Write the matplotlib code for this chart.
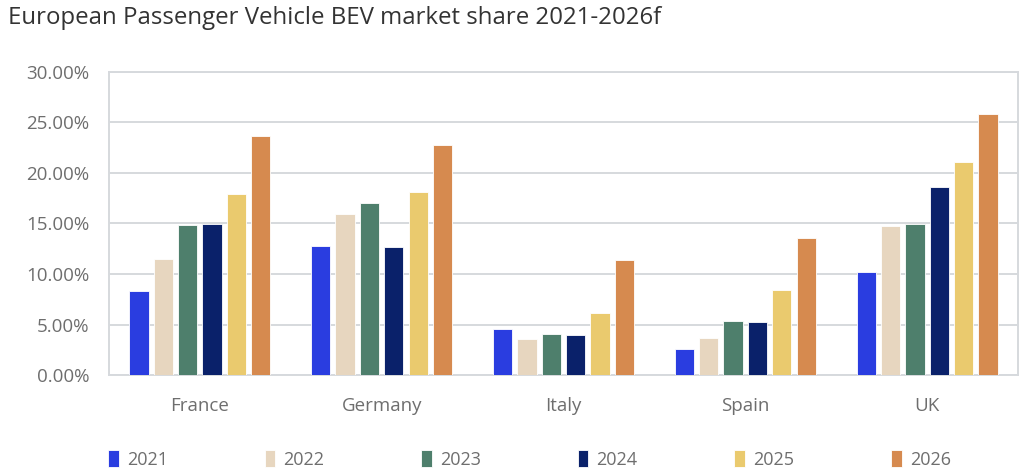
import numpy as np
import matplotlib
matplotlib.use('Agg')
import matplotlib.pyplot as plt
from matplotlib.ticker import FuncFormatter

plt.rcParams['font.family'] = ['Open Sans', 'DejaVu Sans']

countries = ['France', 'Germany', 'Italy', 'Spain', 'UK']
years = ['2021', '2022', '2023', '2024', '2025', '2026']
share_2021 = [8.34, 12.82, 4.52, 2.60, 10.19]
share_2022 = [11.47, 15.92, 3.53, 3.66, 14.80]
share_2023 = [14.83, 17.04, 4.05, 5.37, 14.96]
share_2024 = [14.93, 12.66, 3.92, 5.21, 18.59]
share_2025 = [17.90, 18.10, 6.13, 8.44, 21.06]
share_2026 = [23.67, 22.78, 11.37, 13.55, 25.84]
colors = ['#2a3de0', '#e7d6bf', '#4e7f6c', '#0a216a', '#eaca6e', '#d68a4f']

series = [share_2021, share_2022, share_2023, share_2024, share_2025, share_2026]

fig = plt.figure(figsize=(10.24, 4.72), dpi=100)
ax = fig.add_axes([0.1064, 0.2055, 0.8877, 0.642])

x = np.arange(len(countries))
step = 0.134
width = 0.106
for i, (vals, yr, c) in enumerate(zip(series, years, colors)):
    ax.bar(x + (i - 2.5) * step, vals, width, color=c, label=yr,
           edgecolor='white', linewidth=0.6, zorder=3)

ax.set_xlim(-0.5, 4.5)
ax.set_ylim(0, 30)
ax.set_yticks(np.arange(0, 31, 5))
ax.yaxis.set_major_formatter(FuncFormatter(lambda v, p: f'{v:.2f}%'))
ax.set_xticks(x)
ax.set_xticklabels(countries)
ax.grid(axis='y', color='#d6d9dd', linewidth=1.4, zorder=0)
for s in ax.spines.values():
    s.set_color('#d6d9dd')
    s.set_linewidth(1.4)
ax.tick_params(axis='both', length=0, labelsize=13.5, colors='#6e6e6e')
ax.tick_params(axis='y', pad=14)
ax.tick_params(axis='x', pad=16)

fig.text(0.008, 0.962, 'European Passenger Vehicle BEV market share 2021-2026f',
         fontsize=17.3, color='#333333', va='center', ha='left')

fig.legend(loc='center', bbox_to_anchor=(0.517, 0.027), ncol=6, frameon=False,
           handlelength=0.6, handleheight=1.1, handletextpad=0.45,
           columnspacing=5.35, labelcolor='#6e6e6e', fontsize=13)

fig.savefig('out.png', dpi=100)
